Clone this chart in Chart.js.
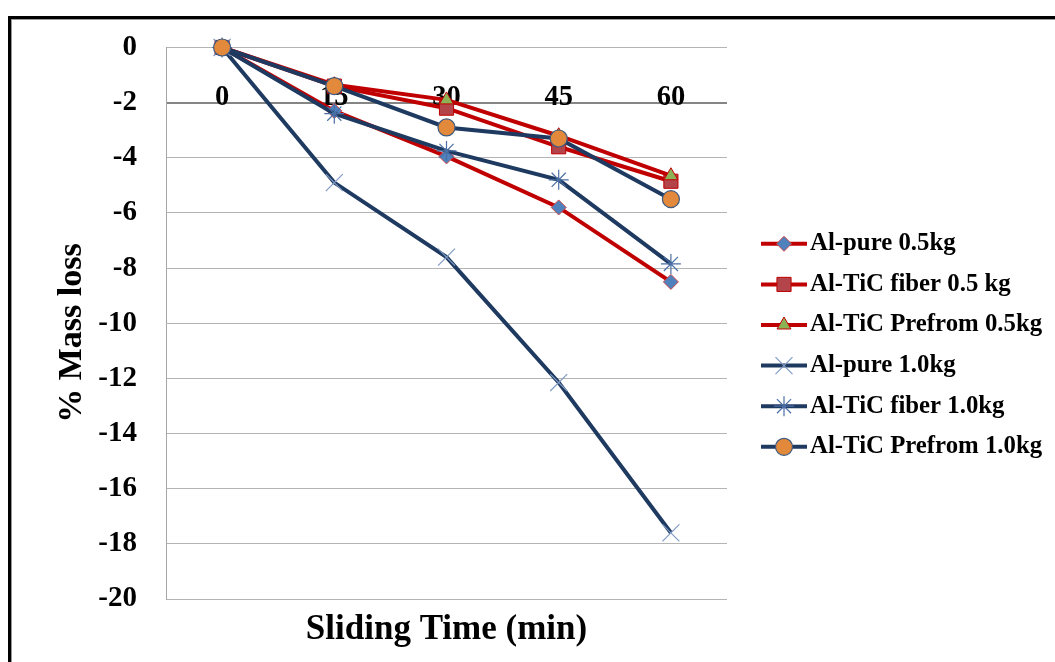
<!DOCTYPE html>
<html>
<head>
<meta charset="utf-8">
<script src="https://cdn.jsdelivr.net/npm/chart.js@4.4.0/dist/chart.umd.min.js"></script>
<style>
  html, body { margin: 0; padding: 0; background: #ffffff; }
  #wrap { width: 1055px; height: 662px; }
  canvas { display: block; }
</style>
</head>
<body>
<div id="wrap"><canvas id="massLoss" width="1055" height="662"></canvas></div>
<script>
// Sliding time categories (min)
const slidingTime = ['0', '15', '30', '45', '60'];

// % mass loss per alloy and load
const alPure05       = [0, -2.3, -3.95, -5.8, -8.5];
const alTicFiber05   = [0, -1.4, -2.2, -3.6, -4.85];
const alTicPrefrom05 = [0, -1.35, -1.9, -3.2, -4.65];
const alPure10       = [0, -4.9, -7.6, -12.15, -17.6];
const alTicFiber10   = [0, -2.4, -3.75, -4.8, -7.85];
const alTicPrefrom10 = [0, -1.4, -2.9, -3.3, -5.5];

// Vertical axis tick values
const massTicks = [0, -2, -4, -6, -8, -10, -12, -14, -16, -18, -20];

const seriesNames = [
  'Al-pure 0.5kg',
  'Al-TiC fiber 0.5 kg',
  'Al-TiC Prefrom 0.5kg',
  'Al-pure 1.0kg',
  'Al-TiC fiber 1.0kg',
  'Al-TiC Prefrom 1.0kg'
];

const yTitle = '% Mass loss';
const xTitle = 'Sliding Time (min)';

const SERIF = "'Liberation Serif', 'Times New Roman', serif";
const RED = '#C00000';
const NAVY = '#1F3A60';

const styles = [
  { line: RED,  pointStyle: 'rectRot',  radius: 7.5, fill: '#4F81BD', stroke: '#D04848', bw: 1 },
  { line: RED,  pointStyle: 'rect',     radius: 10,  fill: '#B2444A', stroke: '#C00000', bw: 1 },
  { line: RED,  pointStyle: 'triangle', radius: 8,   fill: '#8DB255', stroke: '#C00000', bw: 1 },
  { line: NAVY, pointStyle: 'crossRot', radius: 12,  fill: '#7F9AC4', stroke: '#7F9AC4', bw: 1.2 },
  { line: NAVY, pointStyle: 'star',     radius: 10,  fill: '#4A6FA5', stroke: '#4A6FA5', bw: 1.2 },
  { line: NAVY, pointStyle: 'circle',   radius: 8.5, fill: '#E2893B', stroke: '#3D5A80', bw: 1.2 }
];

const seriesData = [alPure05, alTicFiber05, alTicPrefrom05, alPure10, alTicFiber10, alTicPrefrom10];

const datasets = seriesData.map((d, i) => ({
  label: seriesNames[i],
  data: d,
  borderColor: styles[i].line,
  borderWidth: 4,
  tension: 0,
  fill: false,
  clip: false,
  order: seriesData.length - 1 - i,
  pointStyle: styles[i].pointStyle,
  pointRadius: styles[i].radius,
  pointBackgroundColor: styles[i].fill,
  pointBorderColor: styles[i].stroke,
  pointBorderWidth: styles[i].bw
}));

// White page with the black frame along the top and left edges
const framePlugin = {
  id: 'frame',
  beforeDraw(chart) {
    const ctx = chart.ctx;
    ctx.save();
    ctx.fillStyle = '#ffffff';
    ctx.fillRect(0, 0, chart.width, chart.height);
    ctx.restore();
  },
  afterDraw(chart) {
    const ctx = chart.ctx;
    ctx.save();
    ctx.fillStyle = '#000000';
    ctx.fillRect(8, 16, chart.width - 8, 3);
    ctx.fillRect(8, 16, 3, chart.height - 16);
    ctx.fillStyle = '#9a9a9a';
    ctx.fillRect(11, 19, chart.width - 11, 1);
    ctx.fillRect(11, 19, 1, chart.height - 19);
    // rotated vertical axis title
    ctx.translate(72, 333);
    ctx.rotate(-Math.PI / 2);
    ctx.font = 'bold 34px ' + SERIF;
    ctx.fillStyle = '#000000';
    ctx.textAlign = 'center';
    ctx.textBaseline = 'middle';
    ctx.fillText(yTitle, 0, 0);
    ctx.restore();
  }
};

// Horizontal axis crossing at -2 with its category labels sitting on top of it
const crossAxisPlugin = {
  id: 'crossAxis',
  beforeDatasetsDraw(chart) {
    const { ctx, scales: { x, y } } = chart;
    const yPix = y.getPixelForValue(-2);
    ctx.save();
    ctx.font = 'bold 28.5px ' + SERIF;
    ctx.fillStyle = '#000000';
    ctx.textAlign = 'center';
    ctx.textBaseline = 'alphabetic';
    slidingTime.forEach((lab, i) => {
      ctx.fillText(lab, x.getPixelForValue(i), yPix + 2);
    });
    ctx.restore();
  }
};

function drawMarker(ctx, st, cx, cy) {
  ctx.save();
  ctx.fillStyle = st.fill;
  ctx.strokeStyle = st.stroke;
  ctx.lineWidth = st.bw;
  Chart.helpers.drawPoint(ctx, { pointStyle: st.pointStyle, radius: st.radius, rotation: 0, borderWidth: st.bw }, cx, cy);
  ctx.restore();
}

// Legend on the right: line sample with marker, then the series name
const sideLegendPlugin = {
  id: 'sideLegend',
  afterDraw(chart) {
    const ctx = chart.ctx;
    const top = 243.8, step = 40.6;
    ctx.save();
    seriesNames.forEach((name, i) => {
      const yy = top + i * step;
      ctx.strokeStyle = styles[i].line;
      ctx.lineWidth = 4;
      ctx.beginPath();
      ctx.moveTo(761, yy);
      ctx.lineTo(807, yy);
      ctx.stroke();
      drawMarker(ctx, styles[i], 784, yy);
      ctx.font = 'bold 24.8px ' + SERIF;
      ctx.fillStyle = '#000000';
      ctx.textAlign = 'left';
      ctx.textBaseline = 'middle';
      ctx.fillText(name, 810, yy);
    });
    ctx.restore();
  }
};

new Chart(document.getElementById('massLoss'), {
  type: 'line',
  data: { labels: slidingTime, datasets },
  plugins: [framePlugin, crossAxisPlugin, sideLegendPlugin],
  options: {
    responsive: false,
    animation: false,
    devicePixelRatio: 1,
    layout: { padding: { left: 0, top: 47.5, right: 328, bottom: 0 } },
    plugins: { legend: { display: false }, tooltip: { enabled: false } },
    scales: {
      x: {
        type: 'category',
        offset: true,
        grid: { display: false, drawTicks: false },
        border: { display: false },
        ticks: { display: false },
        title: {
          display: true,
          text: xTitle,
          color: '#000000',
          font: { family: SERIF, size: 35, weight: 'bold', lineHeight: 1 },
          padding: { top: 0, bottom: 15 }
        },
        afterFit(scale) { scale.height = 63; }
      },
      y: {
        min: -20,
        max: 0,
        afterBuildTicks(scale) { scale.ticks = massTicks.map(v => ({ value: v })); },
        grid: {
          drawTicks: false,
          color: c => (c.tick && c.tick.value === -2 ? '#858585' : '#b4b4b4'),
          lineWidth: c => (c.tick && c.tick.value === -2 ? 2 : 1)
        },
        border: { display: true, color: '#a6a6a6', width: 1 },
        ticks: {
          padding: 29,
          color: '#000000',
          font: { family: SERIF, size: 29, weight: 'bold' },
          callback: v => String(v)
        },
        title: { display: false },
        afterFit(scale) { scale.width = 166; }
      }
    }
  }
});
</script>
</body>
</html>
